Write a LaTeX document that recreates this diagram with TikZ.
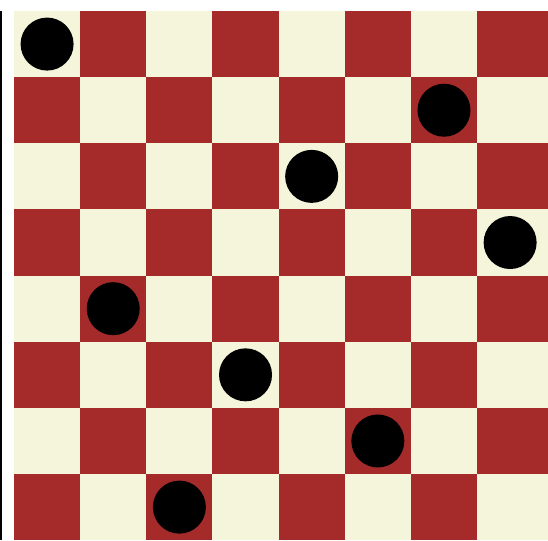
\documentclass[tikz,border=0pt]{standalone}
\definecolor{lightsq}{HTML}{F5F5DC}
\definecolor{darksq}{HTML}{A52A2A}
\tikzset{queen/.style={fill=black}}
\begin{document}
\begin{tikzpicture}[x=1pt,y=-1pt]
\useasboundingbox (0,0) rectangle (548,540);
\fill[white] (0,0) rectangle (548,540);
\fill[black] (0,11) rectangle (2,540);
\foreach \r in {0,...,7}{
  \foreach \c in {0,...,7}{
    \pgfmathsetmacro\xa{14+66.15*\c}
    \pgfmathsetmacro\xb{\c==7 ? 548 : 14+66.15*(\c+1)}
    \pgfmathsetmacro\ya{11+66.15*\r}
    \pgfmathsetmacro\yb{\r==7 ? 540 : 11+66.15*(\r+1)}
    \pgfmathtruncatemacro\sqparity{mod(\r+\c,2)}
    \ifnum\sqparity=0
      \fill[lightsq] (\xa,\ya) rectangle (\xb,\yb);
    \else
      \fill[darksq] (\xa,\ya) rectangle (\xb,\yb);
    \fi
  }
}
\foreach \r/\c in {0/0,1/6,2/4,3/7,4/1,5/3,6/5,7/2}{
  \fill[queen] ({14+66.15*(\c+0.5)},{11+66.15*(\r+0.5)}) circle (26.5);
}
\end{tikzpicture}
\end{document}
